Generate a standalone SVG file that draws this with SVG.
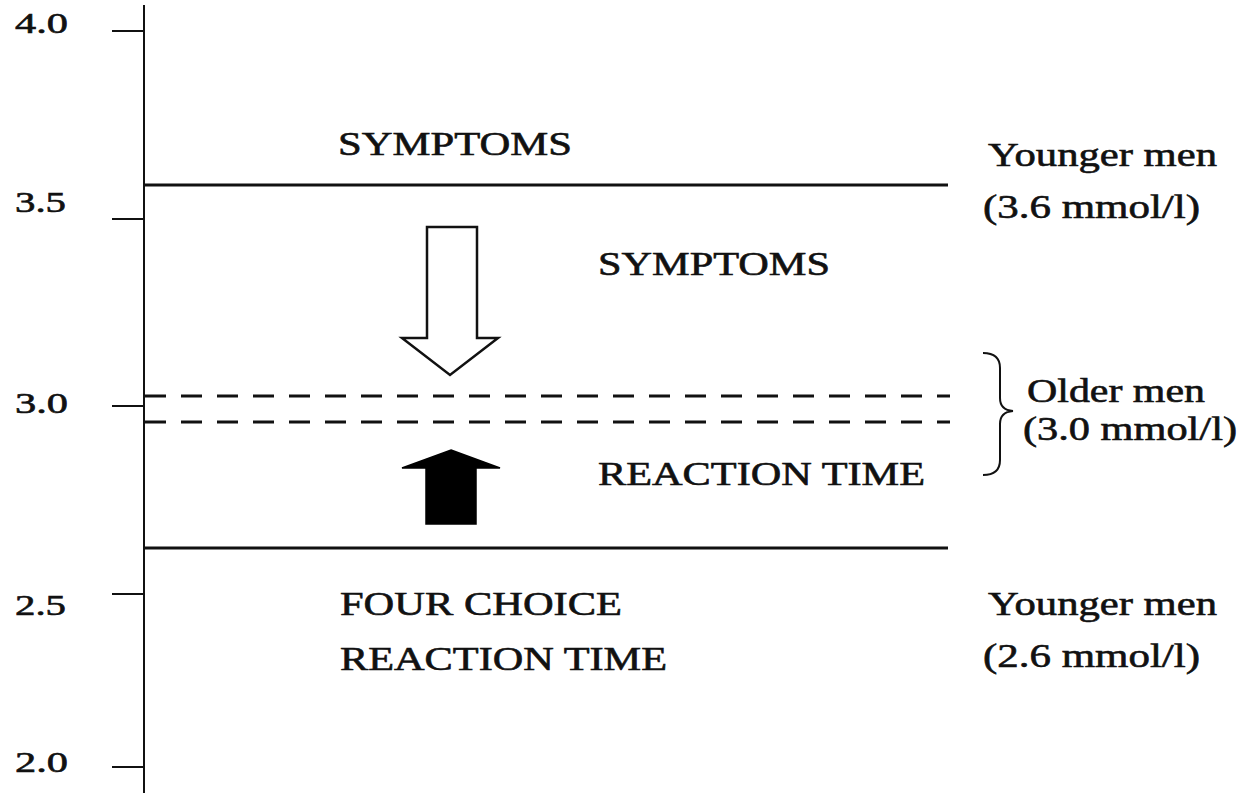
<svg xmlns="http://www.w3.org/2000/svg" width="1242" height="798" viewBox="0 0 1242 798">
<style>
text { font-family: "Liberation Serif", "Times New Roman", serif; fill: #111; stroke: #111; stroke-width: 0.6; }
.lbl { font-size: 33px; }
.num { font-size: 29px; }
.ax { stroke: #111; stroke-width: 2; fill: none; }
.solid { stroke: #111; stroke-width: 3; fill: none; }
.dash { stroke: #111; stroke-width: 3; fill: none; stroke-dasharray: 21 15; }
</style>
<rect width="1242" height="798" fill="#fff"/>
<g id="axis">
  <line class="ax" x1="144" y1="5" x2="144" y2="793"/>
  <line class="ax" x1="112" y1="31" x2="144" y2="31"/>
  <line class="ax" x1="112" y1="219" x2="144" y2="219"/>
  <line class="ax" x1="112" y1="406" x2="144" y2="406"/>
  <line class="ax" x1="112" y1="594" x2="144" y2="594"/>
  <line class="ax" x1="112" y1="767" x2="144" y2="767"/>
  <text class="num" x="15" y="33" textLength="53" lengthAdjust="spacingAndGlyphs">4.0</text>
  <text class="num" x="15" y="212" textLength="51" lengthAdjust="spacingAndGlyphs">3.5</text>
  <text class="num" x="15" y="413" textLength="53" lengthAdjust="spacingAndGlyphs">3.0</text>
  <text class="num" x="15" y="615" textLength="51" lengthAdjust="spacingAndGlyphs">2.5</text>
  <text class="num" x="15" y="772" textLength="53" lengthAdjust="spacingAndGlyphs">2.0</text>
</g>
<g id="connectors">
  <line class="solid" x1="144" y1="185" x2="948" y2="185"/>
  <line class="solid" x1="144" y1="548" x2="948" y2="548"/>
  <line class="dash" x1="145" y1="396" x2="950" y2="396"/>
  <line class="dash" x1="145" y1="422" x2="950" y2="422"/>
  <path class="ax" d="M983,353 Q1000,353 1000,368 L1000,398 Q1000,410 1013,411 Q1000,412 1000,424 L1000,460 Q1000,475 983,475"/>
</g>
<g id="arrow-down">
  <polygon points="427,227 477,227 477,338 498,338 450,375 402,338 427,338" fill="#fff" stroke="#111" stroke-width="2.5" stroke-linejoin="miter"/>
</g>
<g id="arrow-up">
  <polygon points="451,450 500,468 476,468 476,524 426,524 426,468 402,468" fill="#000" stroke="#000" stroke-width="1.5"/>
</g>
<g id="symptoms-top">
  <text class="lbl" x="338" y="155" textLength="234" lengthAdjust="spacingAndGlyphs">SYMPTOMS</text>
</g>
<g id="younger-top">
  <text class="lbl" x="988" y="166" textLength="229" lengthAdjust="spacingAndGlyphs">Younger men</text>
  <text class="lbl" x="983" y="218" textLength="217" lengthAdjust="spacingAndGlyphs">(3.6 mmol/l)</text>
</g>
<g id="symptoms-mid">
  <text class="lbl" x="598" y="275" textLength="232" lengthAdjust="spacingAndGlyphs">SYMPTOMS</text>
</g>
<g id="older">
  <text class="lbl" x="1027" y="402" textLength="178" lengthAdjust="spacingAndGlyphs">Older men</text>
  <text class="lbl" x="1023" y="440" textLength="214" lengthAdjust="spacingAndGlyphs">(3.0 mmol/l)</text>
</g>
<g id="reaction-mid">
  <text class="lbl" x="598" y="485" textLength="327" lengthAdjust="spacingAndGlyphs">REACTION TIME</text>
</g>
<g id="four-choice">
  <text class="lbl" x="340" y="615" textLength="282" lengthAdjust="spacingAndGlyphs">FOUR CHOICE</text>
  <text class="lbl" x="340" y="670" textLength="327" lengthAdjust="spacingAndGlyphs">REACTION TIME</text>
</g>
<g id="younger-bottom">
  <text class="lbl" x="988" y="615" textLength="229" lengthAdjust="spacingAndGlyphs">Younger men</text>
  <text class="lbl" x="983" y="667" textLength="217" lengthAdjust="spacingAndGlyphs">(2.6 mmol/l)</text>
</g>
</svg>
